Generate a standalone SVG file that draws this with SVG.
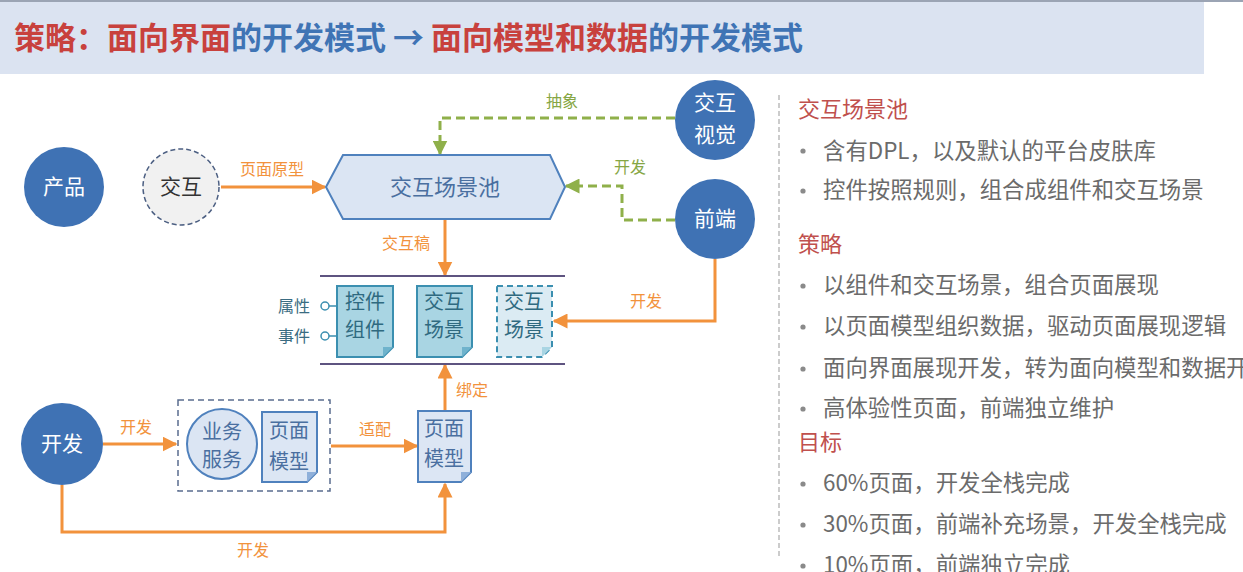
<svg xmlns="http://www.w3.org/2000/svg" width="1243" height="572" viewBox="0 0 1243 572">
<style>
text{font-family:"Noto Sans CJK SC","Liberation Sans",sans-serif}
.circ{fill:#3f72b4}
.wt{fill:#fff;font-size:21px;text-anchor:middle}
.ol{fill:none;stroke:#f2923c;stroke-width:3}
.gl{fill:none;stroke:#8fb04a;stroke-width:3;stroke-dasharray:9 5}
.olab{fill:#f2923c;font-size:16px;text-anchor:middle}
.glab{fill:#86a644;font-size:16px;text-anchor:middle}
.tdoc{fill:#a9d5e3;stroke:#3b8fb0;stroke-width:2}
.tfold{fill:#6fb3cc}
.ttx{fill:#2f6a80;font-size:20px;text-anchor:middle}
.bdoc{fill:#dce6f4;stroke:#4f81bd;stroke-width:2}
.bfold{fill:#8fb0da}
.btx{fill:#4a6fa0;font-size:20px;text-anchor:middle}
.hd{fill:#c0504d;font-size:22px}
.bl{fill:#6b6b6b;font-size:22.4px}
.dot{fill:#8a8a8a}
</style>
<defs>
<marker id="ao" viewBox="0 0 10 10" refX="9" refY="5" markerWidth="15" markerHeight="15" markerUnits="userSpaceOnUse" orient="auto"><path d="M0,0 L10,5 L0,10 z" fill="#f2923c"/></marker>
<marker id="ag" viewBox="0 0 10 10" refX="9" refY="5" markerWidth="15" markerHeight="15" markerUnits="userSpaceOnUse" orient="auto"><path d="M0,0 L10,5 L0,10 z" fill="#8fb04a"/></marker>
</defs>

<g id="title">
<rect x="0" y="0" width="1204" height="74" fill="#dbe3f1"/>
<rect x="0" y="0" width="1243" height="2" fill="#9ba4b4"/>
<text x="14" y="49" font-size="31" font-weight="bold"><tspan fill="#c8413d">策略：面向界面</tspan><tspan fill="#3f74b5">的开发模式 → </tspan><tspan fill="#c8413d">面向模型和数据</tspan><tspan fill="#3f74b5">的开发模式</tspan></text>
</g>

<g id="connectors">
<path class="ol" d="M221,187 H325" marker-end="url(#ao)"/>
<text class="olab" x="272" y="175">页面原型</text>
<path class="gl" d="M675,118 H440 V154" marker-end="url(#ag)"/>
<text class="glab" x="562" y="107">抽象</text>
<path class="gl" d="M675,220 H622 V186 H566" marker-end="url(#ag)"/>
<text class="glab" x="630" y="173">开发</text>
<path class="ol" d="M445,219 V275" marker-end="url(#ao)"/>
<text class="olab" x="406" y="249">交互稿</text>
<path class="ol" d="M715,259 V321 H554" marker-end="url(#ao)"/>
<text class="olab" x="646" y="307">开发</text>
<path class="ol" d="M445,410 V365" marker-end="url(#ao)"/>
<text class="olab" x="472" y="396">绑定</text>
<path class="ol" d="M103,444 H176" marker-end="url(#ao)"/>
<text class="olab" x="136" y="433">开发</text>
<path class="ol" d="M331,446 H417" marker-end="url(#ao)"/>
<text class="olab" x="375" y="435">适配</text>
<path class="ol" d="M62,485 V532 H445 V484" marker-end="url(#ao)"/>
<text class="olab" x="253" y="556">开发</text>
<line x1="320" y1="276" x2="565" y2="276" stroke="#5e5480" stroke-width="2"/>
<line x1="320" y1="364" x2="565" y2="364" stroke="#5e5480" stroke-width="2"/>
</g>

<g id="product">
<circle class="circ" cx="64" cy="187" r="40"/>
<text class="wt" x="64" y="194">产品</text>
</g>
<g id="interaction">
<circle cx="181" cy="187" r="38" fill="#f1f1f1" stroke="#4c5f82" stroke-width="1.5" stroke-dasharray="5 3"/>
<text x="181" y="194" font-size="21" fill="#333" text-anchor="middle">交互</text>
</g>
<g id="pool">
<path d="M326,187 L343,155 H550 L565,187 L550,219 H343 Z" fill="#dbe5f3" stroke="#4f81bd" stroke-width="2"/>
<text x="445" y="195" font-size="22" fill="#4a6fa0" text-anchor="middle">交互场景池</text>
</g>
<g id="visual">
<circle class="circ" cx="715" cy="120" r="40"/>
<text class="wt" x="715" y="110">交互</text>
<text class="wt" x="715" y="142">视觉</text>
</g>
<g id="frontend">
<circle class="circ" cx="715" cy="219" r="40"/>
<text class="wt" x="715" y="226">前端</text>
</g>
<g id="dev">
<circle class="circ" cx="62" cy="444" r="41"/>
<text class="wt" x="62" y="451">开发</text>
</g>

<g id="control">
<text x="310" y="312" font-size="16" fill="#3a6c82" text-anchor="end">属性</text>
<text x="310" y="342" font-size="16" fill="#3a6c82" text-anchor="end">事件</text>
<circle cx="325" cy="306" r="4" fill="#fff" stroke="#3b8fb0" stroke-width="1.5"/>
<circle cx="325" cy="336" r="4" fill="#fff" stroke="#3b8fb0" stroke-width="1.5"/>
<path d="M329,306 H337 M329,336 H337" stroke="#3b8fb0" stroke-width="1.5"/>
<path class="tdoc" d="M337,286 H393 V347 L383,357 H337 Z"/>
<path class="tfold" d="M383,357 L393,347 L383,347 Z"/>
<text class="ttx" x="365" y="309">控件</text>
<text class="ttx" x="365" y="337">组件</text>
</g>
<g id="scene">
<path class="tdoc" d="M417,286 H472 V347 L462,357 H417 Z"/>
<path class="tfold" d="M462,357 L472,347 L462,347 Z"/>
<text class="ttx" x="444" y="309">交互</text>
<text class="ttx" x="444" y="337">场景</text>
</g>
<g id="scene2">
<path d="M497,286 H552 V347 L542,357 H497 Z" fill="#dbebf3" stroke="#3b8fb0" stroke-width="2" stroke-dasharray="6 4"/>
<path d="M542,357 L552,347 L542,347 Z" fill="#a9d5e3"/>
<text class="ttx" x="524" y="309">交互</text>
<text class="ttx" x="524" y="337">场景</text>
</g>

<g id="servicebox">
<rect x="178" y="400" width="152" height="91" fill="none" stroke="#5a6c8e" stroke-width="1.5" stroke-dasharray="6 4"/>
</g>
<g id="service">
<circle cx="222" cy="444" r="35" fill="#dbe5f3" stroke="#4f81bd" stroke-width="2"/>
<text class="btx" x="222" y="439">业务</text>
<text class="btx" x="222" y="467">服务</text>
</g>
<g id="pagemodel1">
<path class="bdoc" d="M262,412 H317 V472 L307,482 H262 Z"/>
<path class="bfold" d="M307,482 L317,472 L307,472 Z"/>
<text class="btx" x="289" y="438">页面</text>
<text class="btx" x="289" y="469">模型</text>
</g>
<g id="pagemodel2">
<path class="bdoc" d="M418,411 H471 V472 L461,482 H418 Z"/>
<path class="bfold" d="M461,482 L471,472 L461,472 Z"/>
<text class="btx" x="444" y="436">页面</text>
<text class="btx" x="444" y="466">模型</text>
</g>

<g id="panel">
<line x1="779" y1="95" x2="779" y2="556" stroke="#999" stroke-width="1" stroke-dasharray="5 3"/>
<text class="hd" x="798" y="117">交互场景池</text>
<circle class="dot" cx="803" cy="151" r="2.6"/><text class="bl" x="823" y="159">含有DPL，以及默认的平台皮肤库</text>
<circle class="dot" cx="803" cy="191" r="2.6"/><text class="bl" x="823" y="198">控件按照规则，组合成组件和交互场景</text>
<text class="hd" x="798" y="252">策略</text>
<circle class="dot" cx="803" cy="286" r="2.6"/><text class="bl" x="823" y="293">以组件和交互场景，组合页面展现</text>
<circle class="dot" cx="803" cy="327" r="2.6"/><text class="bl" x="823" y="334">以页面模型组织数据，驱动页面展现逻辑</text>
<circle class="dot" cx="803" cy="369" r="2.6"/><text class="bl" x="823" y="376">面向界面展现开发，转为面向模型和数据开发</text>
<circle class="dot" cx="803" cy="409" r="2.6"/><text class="bl" x="823" y="416">高体验性页面，前端独立维护</text>
<text class="hd" x="798" y="450">目标</text>
<circle class="dot" cx="803" cy="484" r="2.6"/><text class="bl" x="823" y="491">60%页面，开发全栈完成</text>
<circle class="dot" cx="803" cy="525" r="2.6"/><text class="bl" x="823" y="532">30%页面，前端补充场景，开发全栈完成</text>
<circle class="dot" cx="803" cy="566" r="2.6"/><text class="bl" x="823" y="573">10%页面，前端独立完成</text>
</g>
</svg>
